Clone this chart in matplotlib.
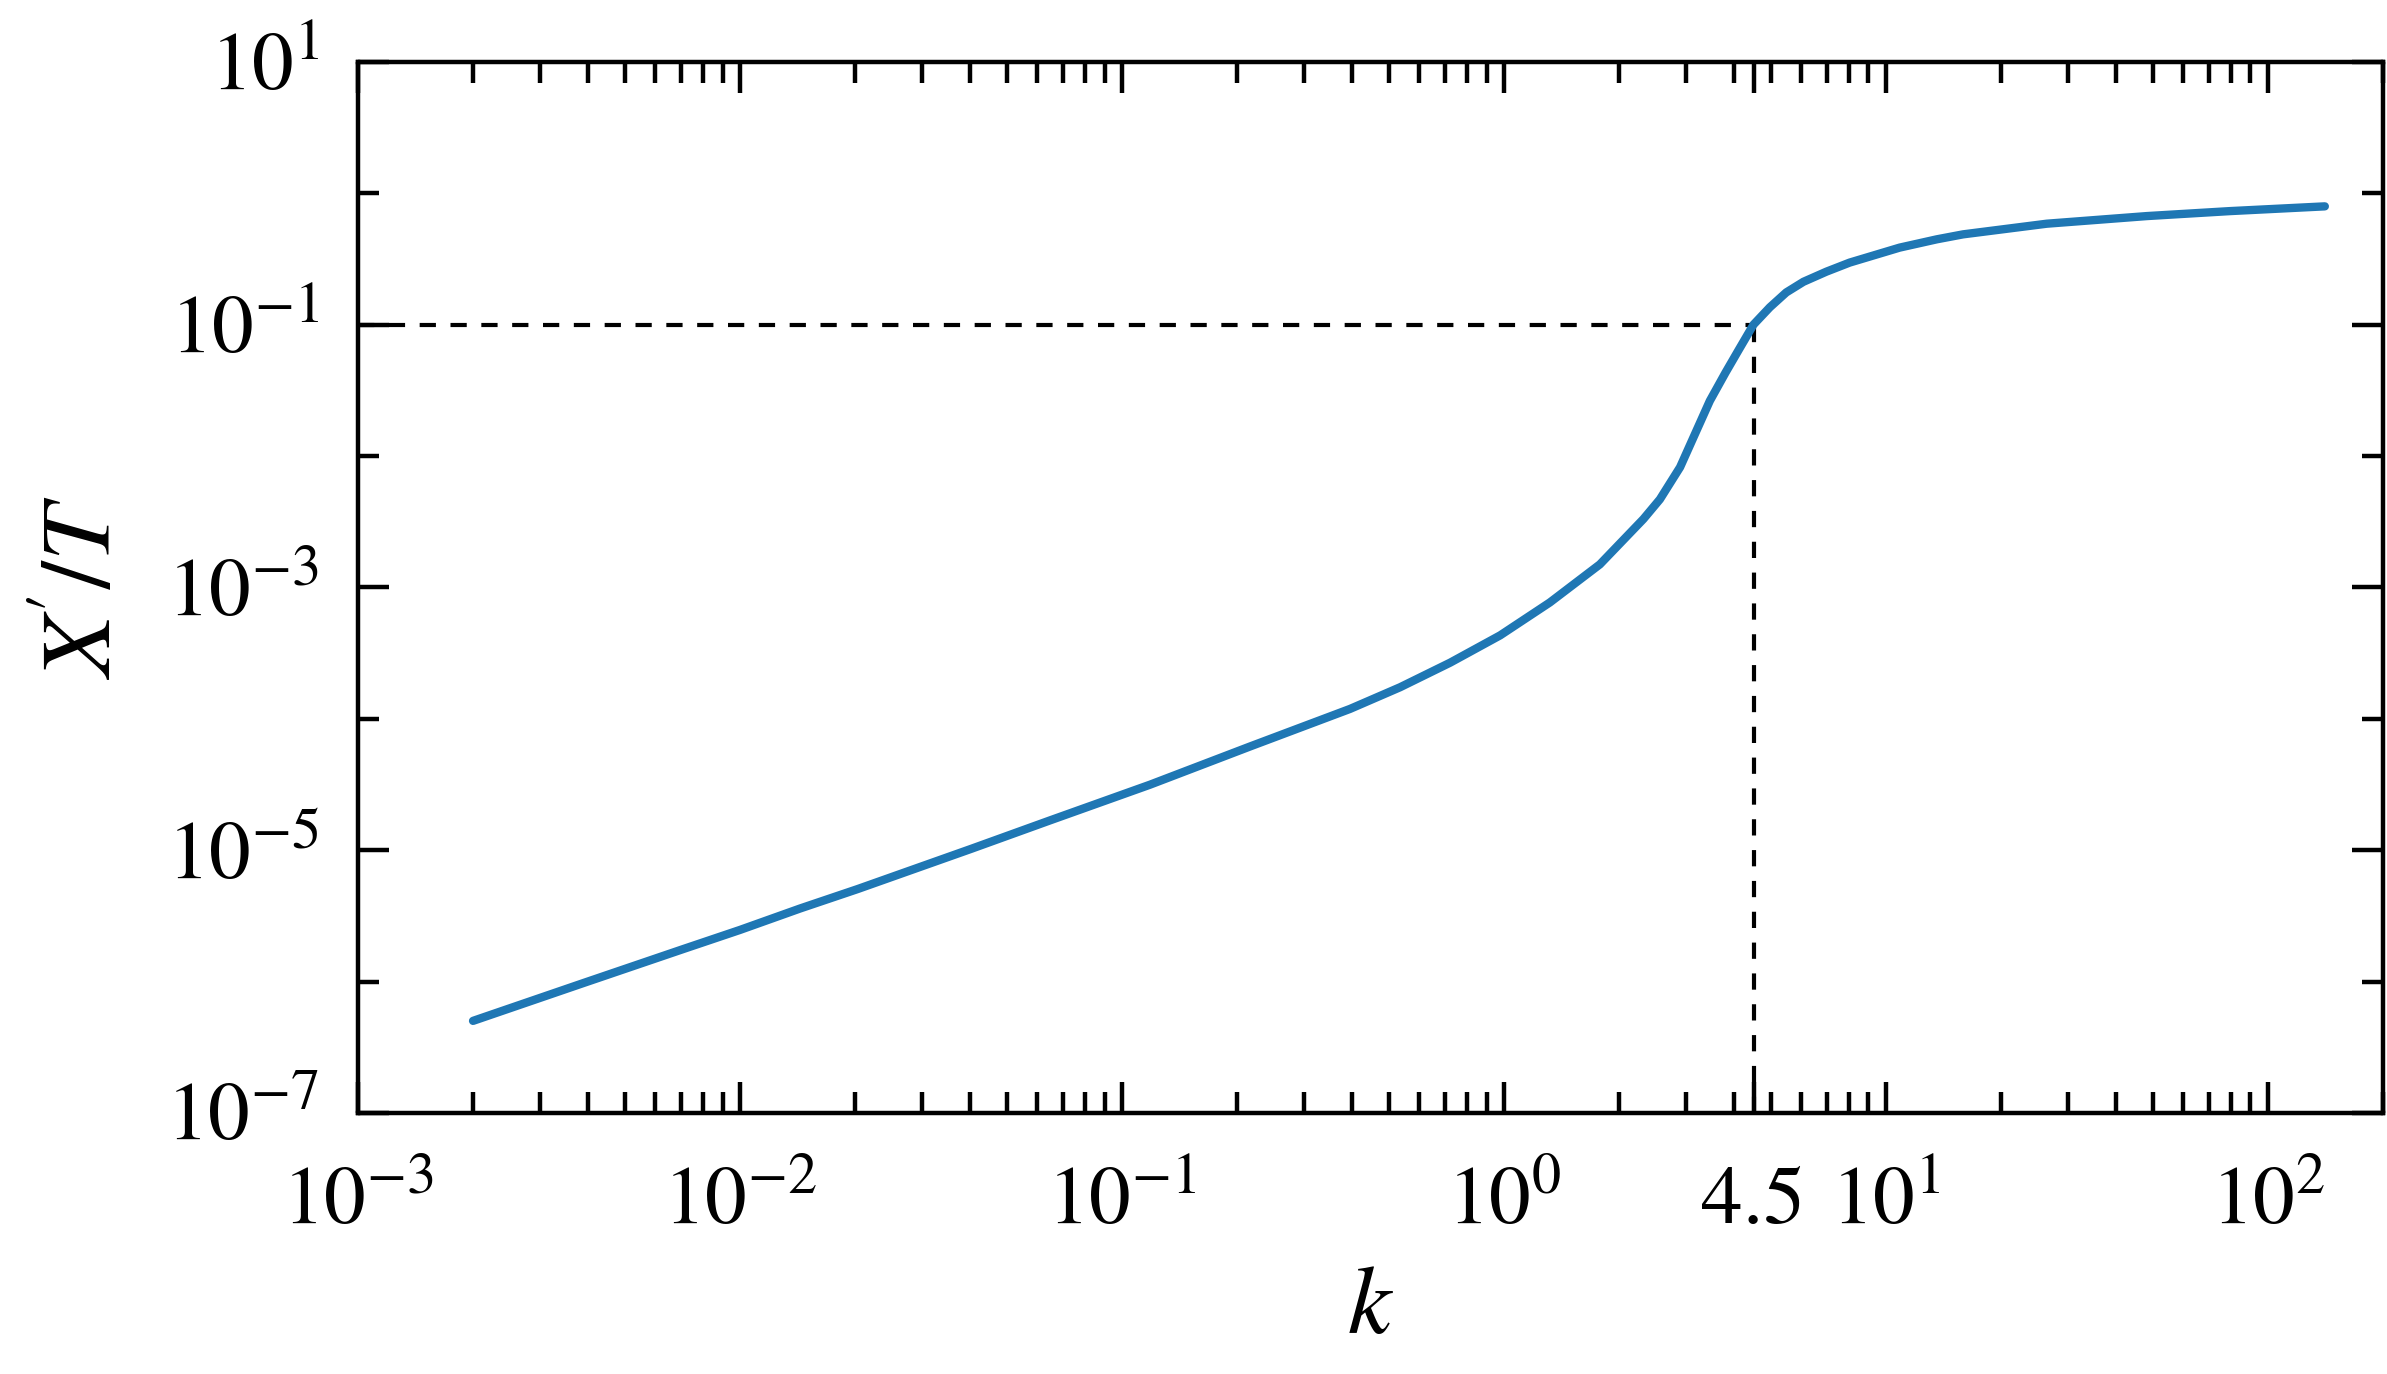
import numpy as np
import matplotlib
matplotlib.use("Agg")
import matplotlib.pyplot as plt
from matplotlib.ticker import LogLocator, FixedLocator, NullFormatter

plt.rcParams['font.family'] = 'STIXGeneral'
plt.rcParams['mathtext.fontset'] = 'stix'

# values
k = [0.002, 0.003873, 0.007079, 0.01, 0.01436, 0.02032, 0.04027, 0.06486,
     0.1183, 0.2163, 0.3954, 0.5346, 0.7228, 0.9772, 1.318, 1.782, 2.317,
     2.559, 2.891, 3.192, 3.459, 3.802, 4.111, 4.5, 4.966, 5.483, 6.081,
     6.982, 8.035, 10.86, 13.58, 15.92, 26.36, 48.19, 79.62, 140.9]
x_over_T = [5.02e-7, 9.70e-7, 1.762e-6, 2.472e-6, 3.597e-6, 5.058e-6, 1.023e-5,
            1.687e-5, 3.148e-5, 6.152e-5, 1.189e-4, 1.738e-4, 2.673e-4, 4.315e-4,
            7.674e-4, 1.496e-3, 3.311e-3, 4.677e-3, 8.222e-3, 1.563e-2, 2.630e-2,
            4.315e-2, 6.383e-2, 0.1, 0.1355, 0.1758, 0.2118, 0.2529, 0.2965,
            0.3855, 0.4457, 0.4864, 0.5861, 0.6699, 0.7311, 0.7943]

k_mark = 4.5
y_mark = 0.1

xticks = [1e-3, 1e-2, 1e-1, 1, 4.5, 10, 100]
xticklabels = [r'$10^{-3}$', r'$10^{-2}$', r'$10^{-1}$', r'$10^{0}$', '4.5',
               r'$10^{1}$', r'$10^{2}$']
yticks = [1e-7, 1e-5, 1e-3, 1e-1, 1e1]
yticklabels = [r'$10^{-7}$', r'$10^{-5}$', r'$10^{-3}$', r'$10^{-1}$', r'$10^{1}$']
yminor = [1e-6, 1e-4, 1e-2, 1e0]

fig = plt.figure(figsize=(23.87, 13.74), dpi=100)
ax = fig.add_axes([0.150, 0.190, 0.8483, 0.765])

ax.plot(k, x_over_T, color='#1f77b4', lw=6, solid_capstyle='round',
        solid_joinstyle='round', zorder=3)
ax.plot([1e-3, k_mark], [y_mark, y_mark], color='black', lw=3.0,
        dashes=(3.9, 3.5), zorder=2)
ax.plot([k_mark, k_mark], [1e-7, y_mark], color='black', lw=3.0,
        dashes=(3.9, 3.5), zorder=2)

ax.set_xscale('log')
ax.set_yscale('log')
ax.set_xlim(1e-3, 200)
ax.set_ylim(1e-7, 1e1)

ax.set_xticks(xticks)
ax.set_xticklabels(xticklabels)
ax.xaxis.set_minor_locator(LogLocator(base=10, subs=np.arange(2, 10)))
ax.xaxis.set_minor_formatter(NullFormatter())
ax.set_yticks(yticks)
ax.set_yticklabels(yticklabels)
ax.yaxis.set_minor_locator(FixedLocator(yminor))
ax.yaxis.set_minor_formatter(NullFormatter())

ax.tick_params(which='both', direction='in', top=True, right=True,
               width=3.2, labelsize=60)
ax.tick_params(which='major', length=22)
ax.tick_params(which='minor', length=15)
ax.tick_params(axis='x', which='major', pad=39)
ax.tick_params(axis='y', which='major', pad=28)
for s in ax.spines.values():
    s.set_linewidth(3.2)

ax.set_xlabel(r'$k$', fontsize=70, labelpad=17)
ax.set_ylabel(r'$X^{\!\prime}/T$', fontsize=72, labelpad=24)

fig.savefig('out.png', dpi=100)
